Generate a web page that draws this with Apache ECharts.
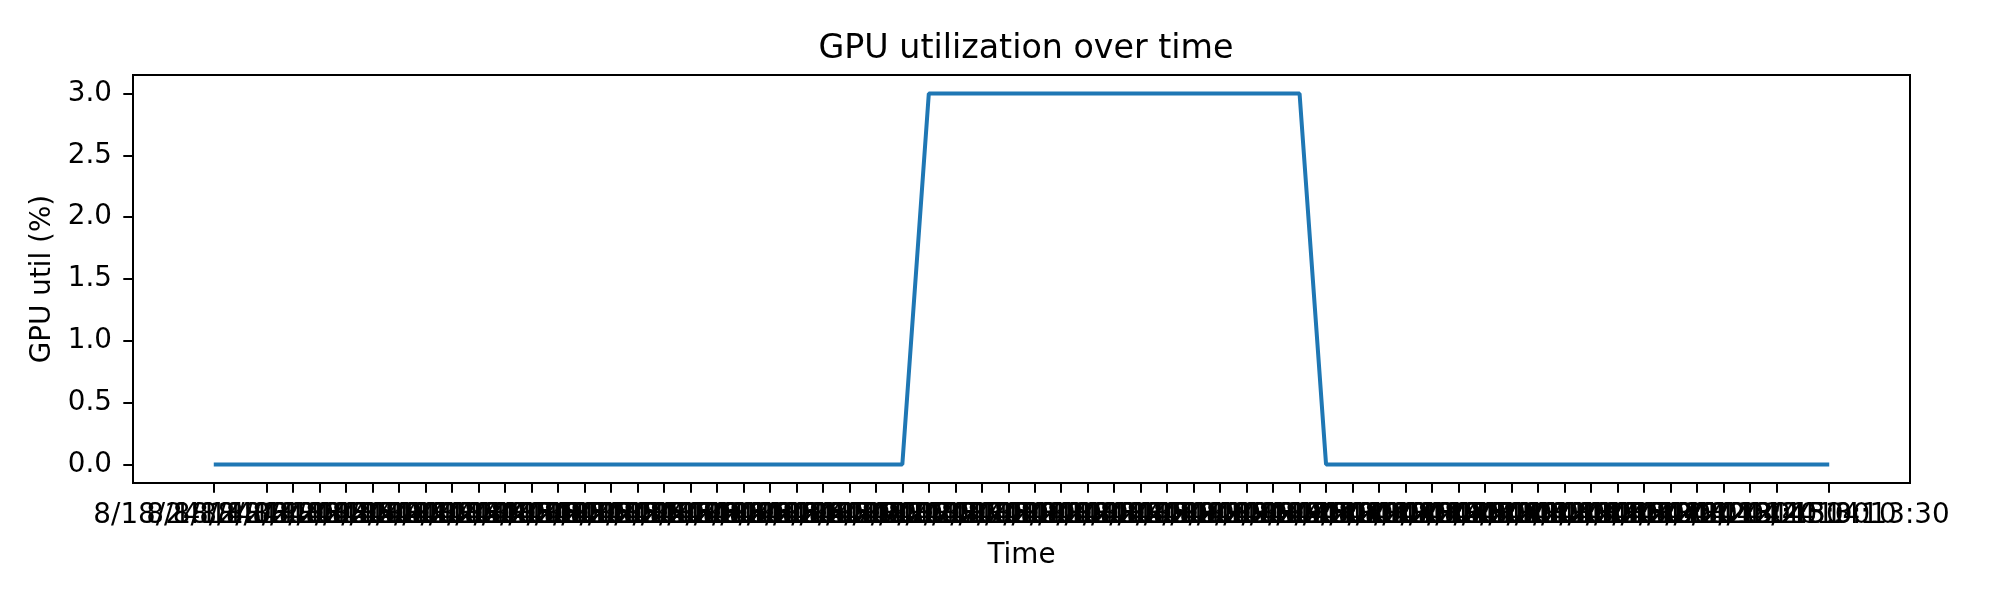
<!DOCTYPE html>
<html>
<head>
<meta charset="utf-8">
<script src="https://cdn.jsdelivr.net/npm/echarts@6/dist/echarts.min.js"></script>
<style>
html,body{margin:0;padding:0;background:#fff;}
#chart{width:2000px;height:600px;}
</style>
</head>
<body>
<div id="chart"></div>
<script>
var times = [
  "8/18/24 14:03:20","8/18/24 14:03:30","8/18/24 14:03:40","8/18/24 14:03:50",
  "8/18/24 14:04:00","8/18/24 14:04:10","8/18/24 14:04:20","8/18/24 14:04:30","8/18/24 14:04:40","8/18/24 14:04:50",
  "8/18/24 14:05:00","8/18/24 14:05:10","8/18/24 14:05:20","8/18/24 14:05:30","8/18/24 14:05:40","8/18/24 14:05:50",
  "8/18/24 14:06:00","8/18/24 14:06:10","8/18/24 14:06:20","8/18/24 14:06:30","8/18/24 14:06:40","8/18/24 14:06:50",
  "8/18/24 14:07:00","8/18/24 14:07:10","8/18/24 14:07:20","8/18/24 14:07:30","8/18/24 14:07:40","8/18/24 14:07:50",
  "8/18/24 14:08:00","8/18/24 14:08:10","8/18/24 14:08:20","8/18/24 14:08:30","8/18/24 14:08:40","8/18/24 14:08:50",
  "8/18/24 14:09:00","8/18/24 14:09:10","8/18/24 14:09:20","8/18/24 14:09:30","8/18/24 14:09:40","8/18/24 14:09:50",
  "8/18/24 14:10:00","8/18/24 14:10:10","8/18/24 14:10:20","8/18/24 14:10:30","8/18/24 14:10:40","8/18/24 14:10:50",
  "8/18/24 14:11:00","8/18/24 14:11:10","8/18/24 14:11:20","8/18/24 14:11:30","8/18/24 14:11:40","8/18/24 14:11:50",
  "8/18/24 14:12:00","8/18/24 14:12:10","8/18/24 14:12:20","8/18/24 14:12:30","8/18/24 14:12:40","8/18/24 14:12:50",
  "8/18/24 14:13:00","8/18/24 14:13:10","8/18/24 14:13:20","8/18/24 14:13:30"
];
var gpuUtil = [
  0,0,0,0,0,0,0,0,0,0,0,0,0,0,0,0,0,0,0,0,0,0,0,0,0,0,0,
  3,3,3,3,3,3,3,3,3,3,3,3,3,3,3,
  0,0,0,0,0,0,0,0,0,0,0,0,0,0,0,0,0,0,0,0
];
var yTicks = [0, 0.5, 1.0, 1.5, 2.0, 2.5, 3.0];

var idx = times.map(function(_, i){ return i; });
var seriesData = gpuUtil.map(function(v, i){ return [i, v]; });
var pad = (times.length - 1) * 0.05;

var FONT = "DejaVu Sans";
var chart = echarts.init(document.getElementById('chart'), null, {renderer: 'canvas'});
chart.setOption({
  animation: false,
  backgroundColor: '#ffffff',
  title: {
    text: 'GPU utilization over time',
    left: 1021, top: 28, textAlign: 'center',
    textStyle: {fontFamily: FONT, fontSize: 33.3, fontWeight: 'normal', color: '#000'}
  },
  grid: {
    left: 133, top: 75, right: 90, bottom: 117,
    show: true, borderColor: '#000', borderWidth: 2, backgroundColor: 'transparent',
    containLabel: false
  },
  xAxis: {
    type: 'value',
    min: -pad, max: times.length - 1 + pad,
    name: 'Time', nameLocation: 'middle', nameGap: 59,
    nameTextStyle: {fontFamily: FONT, fontSize: 27.8, color: '#000'},
    axisLine: {show: true, onZero: false, lineStyle: {color: '#000', width: 2}},
    axisTick: {show: true, customValues: idx, length: 9.7, lineStyle: {color: '#000', width: 2}},
    axisLabel: {
      show: true, customValues: idx, margin: 19,
      showMinLabel: true, showMaxLabel: true,
      fontFamily: FONT, fontSize: 27.8, color: '#000', hideOverlap: false,
      formatter: function(v){ return times[Math.round(v)]; }
    },
    splitLine: {show: false}
  },
  yAxis: {
    type: 'value',
    min: -0.15, max: 3.15,
    name: 'GPU util (%)', nameLocation: 'middle', nameGap: 75, nameRotate: 90,
    nameTextStyle: {fontFamily: FONT, fontSize: 27.8, color: '#000'},
    axisLine: {show: true, onZero: false, lineStyle: {color: '#000', width: 2}},
    axisTick: {show: true, customValues: yTicks, length: 9.7, lineStyle: {color: '#000', width: 2}},
    axisLabel: {
      show: true, customValues: yTicks, margin: 21,
      showMinLabel: true, showMaxLabel: true,
      fontFamily: FONT, fontSize: 27.8, color: '#000',
      formatter: function(v){ return v.toFixed(1); }
    },
    splitLine: {show: false}
  },
  series: [{
    type: 'line',
    data: seriesData,
    showSymbol: false,
    symbol: 'none',
    lineStyle: {color: '#1f77b4', width: 4},
    itemStyle: {color: '#1f77b4'}
  }]
});
</script>
</body>
</html>
